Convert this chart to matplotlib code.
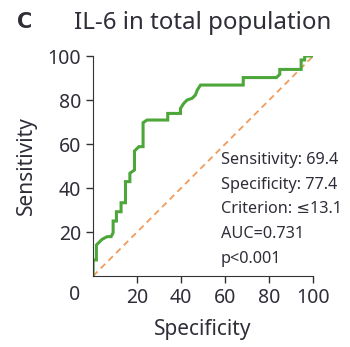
import matplotlib
matplotlib.use("Agg")
import matplotlib.pyplot as plt

plt.rcParams['font.family'] = ['Noto Sans', 'DejaVu Sans']

# ROC curve points (100 - specificity, sensitivity)
fpr = [0, 0, 1.5, 1.5, 4.1, 6.4, 8.2, 9.1, 9.1, 10.6, 10.6, 12.7, 12.7, 14.7, 14.7,
       16.7, 16.7, 18.8, 18.8, 20.8, 22.7, 22.7, 24.5, 33.9, 33.9, 39.7, 39.7, 41.2,
       42.7, 45.0, 46.5, 47.3, 48.8, 68.2, 68.2, 83.3, 84.8, 84.8, 94.5, 94.5, 96.1,
       96.1, 100]
tpr = [0, 7.3, 7.3, 14.1, 16.7, 17.9, 17.9, 19.7, 25.0, 25.0, 29.2, 29.2, 33.3, 33.3,
       42.9, 42.9, 46.7, 48.2, 56.8, 58.8, 58.8, 69.7, 70.9, 70.9, 73.9, 73.9, 76.2,
       78.5, 80.0, 80.8, 82.3, 84.5, 86.8, 86.8, 90.2, 90.2, 91.7, 93.9, 93.9, 98.2,
       98.2, 100, 100]
ticks = [20, 40, 60, 80, 100]
stats = ["Sensitivity: 69.4", "Specificity: 77.4", "Criterion: \u226413.1",
         "AUC=0.731", "p<0.001"]

txt = '#2e2e38'
fig = plt.figure(figsize=(3.5, 3.47), dpi=100)
ax = fig.add_axes([0.266, 0.2046, 0.629, 0.634])

ax.plot([0, 100], [0, 100], color='#f39a5a', lw=1.3, ls=(0, (3.5, 2.5)))
ax.plot(fpr, tpr, color='#4ca63a', lw=2.2, solid_joinstyle='miter')

ax.set_xlim(0, 100)
ax.set_ylim(0, 100)
ax.set_xticks(ticks)
ax.set_yticks(ticks)
ax.tick_params(labelsize=14, colors='#333333', labelcolor=txt, length=5, width=1)
for s in ['top', 'right']:
    ax.spines[s].set_visible(False)
for s in ['left', 'bottom']:
    ax.spines[s].set_color('#333333')
ax.text(-6, -4, "0", transform=ax.transData, ha='right', va='top', fontsize=14,
        color=txt, clip_on=False)

ax.set_xlabel("Specificity", fontsize=15, color=txt, labelpad=8)
ax.set_ylabel("Sensitivity", fontsize=15, color=txt, labelpad=8)

for i, s in enumerate(stats):
    ax.text(58, 52.7 - i * 11.2, s, fontsize=11.7, color=txt, va='center', ha='left',
            clip_on=False)

fig.text(0.048, 0.937, "C", fontsize=15, fontweight='bold', color=txt, va='center',
         family='DejaVu Sans')
fig.text(0.578, 0.935, "IL-6 in total population", fontsize=17.3, color=txt,
         va='center', ha='center')

fig.savefig("out.png", dpi=100)
